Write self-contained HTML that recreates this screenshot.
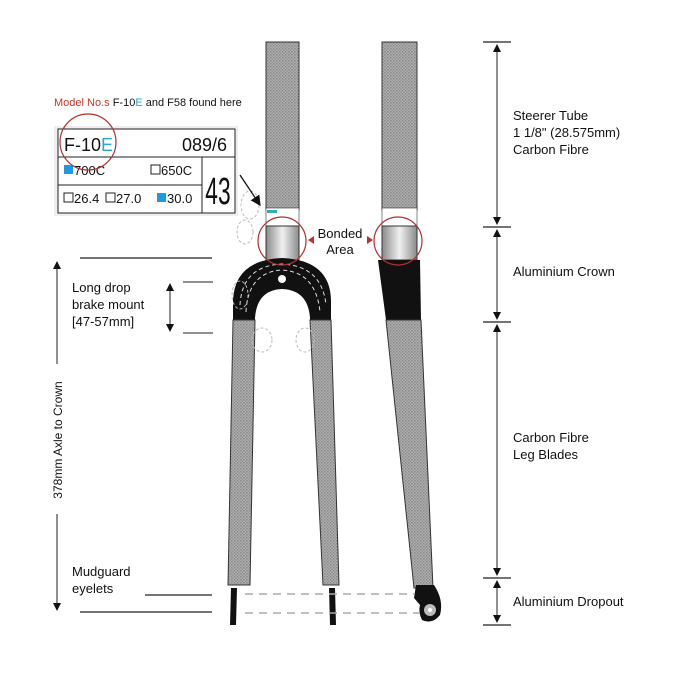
<!DOCTYPE html>
<html><head><meta charset="utf-8"><style>
body{margin:0;background:#fff}
svg{display:block}
text{font-family:"Liberation Sans",sans-serif;fill:#111}
</style></head><body>
<svg width="680" height="680" viewBox="0 0 680 680" xmlns="http://www.w3.org/2000/svg">
<defs>
<pattern id="cf" width="3" height="3" patternUnits="userSpaceOnUse">
<rect width="3" height="3" fill="#b0b0b0"/><rect width="1.5" height="1.5" fill="#888"/><rect x="1.5" y="1.5" width="1.5" height="1.5" fill="#959595"/>
</pattern>
<linearGradient id="al" x1="0" x2="1"><stop offset="0" stop-color="#8a8a8a"/><stop offset=".5" stop-color="#f0f0f0"/><stop offset="1" stop-color="#8a8a8a"/></linearGradient>
<marker id="ah" markerWidth="8" markerHeight="8" refX="7" refY="4" orient="auto"><path d="M0,0 L8,4 L0,8 z" fill="#111"/></marker>
</defs>

<!-- Front view -->
<rect x="266" y="42" width="33" height="168" fill="url(#cf)" stroke="#333"/>
<rect x="266" y="208" width="33" height="18" fill="#fff" stroke="#333" stroke-width=".6"/>
<rect x="267" y="210" width="10" height="3" fill="#3ab"/>
<rect x="266" y="226" width="33" height="34" fill="url(#al)" stroke="#333"/>
<path d="M233,320 L233,300 Q235,260 282,258 Q330,260 331,300 L331,320 L310,320 L310,318 Q308,290 282,289 Q257,290 255,318 L255,320 Z" fill="#111"/>
<path d="M246,312 Q248,272 282,270 Q316,272 320,312" fill="none" stroke="#ddd" stroke-dasharray="4,3" stroke-width="1"/>
<path d="M240,305 Q242,266 282,264 Q322,266 326,305" fill="none" stroke="#ddd" stroke-dasharray="4,3" stroke-width="1"/>
<circle cx="282" cy="279" r="4" fill="#fff"/>
<polygon points="233,320 255,320 250,585 228,585" fill="url(#cf)" stroke="#333"/>
<polygon points="310,320 331,320 339,585 323,585" fill="url(#cf)" stroke="#333"/>
<path d="M231,588 L237,588 L236,625 L230,625 Z" fill="#111"/>
<path d="M329,588 L335,588 L336,625 L330,625 Z" fill="#111"/>
<g fill="none" stroke="#bbb" stroke-dasharray="3,2"><ellipse cx="250" cy="205" rx="9" ry="14"/><ellipse cx="245" cy="232" rx="8" ry="12"/><ellipse cx="240" cy="295" rx="8" ry="14"/><ellipse cx="262" cy="340" rx="10" ry="12"/><ellipse cx="305" cy="340" rx="9" ry="12"/></g>

<!-- Side view -->
<rect x="382" y="42" width="35" height="168" fill="url(#cf)" stroke="#333"/>
<rect x="382" y="208" width="35" height="18" fill="#fff" stroke="#333" stroke-width=".6"/>
<rect x="382" y="226" width="35" height="34" fill="url(#al)" stroke="#333"/>
<polygon points="378,260 420,260 421,320 386,320" fill="#111"/>
<polygon points="386,320 421,320 433,588 414,588" fill="url(#cf)" stroke="#333"/>
<path d="M416,585 L434,585 Q444,600 440,615 Q432,625 422,620 Q418,612 420,605 L414,598 Z" fill="#111"/>
<circle cx="430" cy="610" r="6" fill="#bbb"/><circle cx="430" cy="610" r="2" fill="#fff"/>

<!-- dashed axle lines -->
<g stroke="#aaa" stroke-width="1.5" stroke-dasharray="8,6"><line x1="245" y1="594" x2="415" y2="594"/><line x1="245" y1="613" x2="420" y2="613"/></g>

<path d="M308,240 L314,236 L314,244 Z" fill="#c03030"/>
<path d="M373,240 L367,236 L367,244 Z" fill="#c03030"/>
<text x="340" y="238" font-size="13" text-anchor="middle">Bonded</text>
<text x="340" y="254" font-size="13" text-anchor="middle">Area</text>

<!-- model label -->
<text x="54" y="106" font-size="11"><tspan fill="#c0392b">Model No.s</tspan> F-10<tspan fill="#2aa9c9">E</tspan> and F58 found here</text>
<rect x="54" y="126" width="184" height="90" fill="#eee"/>
<rect x="58" y="129" width="177" height="84" fill="#fff" stroke="#222"/>
<line x1="58" y1="157" x2="235" y2="157" stroke="#222"/>
<line x1="58" y1="185" x2="202" y2="185" stroke="#222"/>
<line x1="202" y1="157" x2="202" y2="213" stroke="#222"/>
<text x="64" y="151" font-size="18">F-10<tspan fill="#2aa9c9">E</tspan></text>
<text x="227" y="151" font-size="18" text-anchor="end">089/6</text>
<rect x="64" y="165" width="9" height="9" fill="#1e9be0"/><text x="74" y="175" font-size="13">700C</text>
<rect x="151" y="165" width="9" height="9" fill="none" stroke="#222"/><text x="161" y="175" font-size="13">650C</text>
<rect x="64" y="193" width="9" height="9" fill="none" stroke="#222"/><text x="74" y="203" font-size="13">26.4</text>
<rect x="106" y="193" width="9" height="9" fill="none" stroke="#222"/><text x="116" y="203" font-size="13">27.0</text>
<rect x="157" y="193" width="9" height="9" fill="#1e9be0"/><text x="167" y="203" font-size="13">30.0</text>
<text x="218" y="204" font-size="38" text-anchor="middle" transform="translate(218 0) scale(0.6 1) translate(-218 0)">43</text>
<line x1="240" y1="175" x2="260" y2="205" stroke="#111" stroke-width="1.3" marker-end="url(#ah)"/>

<!-- red circles -->
<g fill="none" stroke="#b03030" stroke-width="1.2"><circle cx="282" cy="241" r="24"/><circle cx="398" cy="241" r="24"/><circle cx="88" cy="142" r="28"/></g>

<!-- left dims -->
<line x1="80" y1="258" x2="212" y2="258" stroke="#222" stroke-width="1.3"/>
<line x1="145" y1="595" x2="212" y2="595" stroke="#222" stroke-width="1.3"/>
<line x1="80" y1="612" x2="212" y2="612" stroke="#222" stroke-width="1.3"/>
<line x1="57" y1="450" x2="57" y2="262" stroke="#222" marker-end="url(#ah)"/>
<line x1="57" y1="430" x2="57" y2="610" stroke="#222" marker-end="url(#ah)"/>
<rect x="50" y="364" width="14" height="150" fill="#fff"/>
<text x="62" y="440" font-size="12" text-anchor="middle" transform="rotate(-90 62 440)">378mm Axle to Crown</text>
<line x1="183" y1="282" x2="213" y2="282" stroke="#222"/>
<line x1="183" y1="333" x2="213" y2="333" stroke="#222"/>
<line x1="170" y1="300" x2="170" y2="284" stroke="#222" marker-end="url(#ah)"/>
<line x1="170" y1="315" x2="170" y2="331" stroke="#222" marker-end="url(#ah)"/>
<line x1="170" y1="298" x2="170" y2="317" stroke="#222"/>
<text x="72" y="292" font-size="13">Long drop</text>
<text x="72" y="309" font-size="13">brake mount</text>
<text x="72" y="326" font-size="13">[47-57mm]</text>
<text x="72" y="576" font-size="13">Mudguard</text>
<text x="72" y="593" font-size="13">eyelets</text>

<!-- right dims -->
<g stroke="#222" stroke-width="1.2"><line x1="483" y1="42" x2="511" y2="42"/><line x1="483" y1="227" x2="511" y2="227"/><line x1="483" y1="322" x2="511" y2="322"/><line x1="483" y1="578" x2="511" y2="578"/><line x1="483" y1="625" x2="511" y2="625"/></g>
<g stroke="#222"><line x1="497" y1="130" x2="497" y2="45" marker-end="url(#ah)"/><line x1="497" y1="130" x2="497" y2="224" marker-end="url(#ah)"/>
<line x1="497" y1="275" x2="497" y2="230" marker-end="url(#ah)"/><line x1="497" y1="275" x2="497" y2="319" marker-end="url(#ah)"/>
<line x1="497" y1="450" x2="497" y2="325" marker-end="url(#ah)"/><line x1="497" y1="450" x2="497" y2="575" marker-end="url(#ah)"/>
<line x1="497" y1="601" x2="497" y2="581" marker-end="url(#ah)"/><line x1="497" y1="601" x2="497" y2="622" marker-end="url(#ah)"/></g>
<g font-size="13"><text x="513" y="120">Steerer Tube</text><text x="513" y="137">1 1/8" (28.575mm)</text><text x="513" y="154">Carbon Fibre</text>
<text x="513" y="276">Aluminium Crown</text>
<text x="513" y="442">Carbon Fibre</text><text x="513" y="459">Leg Blades</text>
<text x="513" y="606">Aluminium Dropout</text></g>
</svg>
</body></html>
